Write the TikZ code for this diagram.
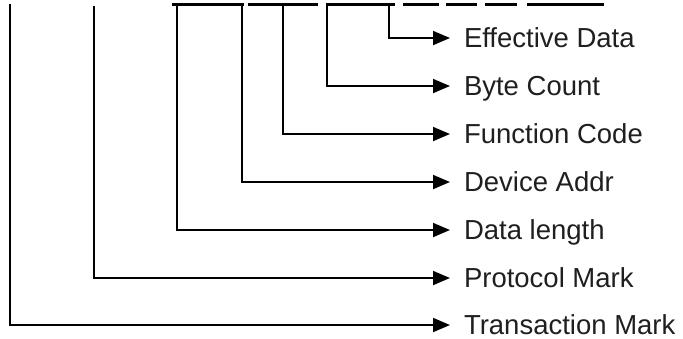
\documentclass[tikz,border=0pt]{standalone}
\usepackage{fontspec}
\setmainfont{Liberation Sans}
\usetikzlibrary{arrows.meta}
\begin{document}
\begin{tikzpicture}[x=1pt,y=-1pt,
	wire/.style={line width=1.8pt},
	arr/.style={wire,-{Triangle[length=17pt,width=14pt]}},
	bar/.style={line width=3pt},
	lbl/.style={anchor=west,inner xsep=0pt,outer xsep=14pt,inner ysep=0pt,text height=19.5pt,text depth=0pt,
		font=\fontsize{27.5}{32}\selectfont,text=black!88}]
	\useasboundingbox (0,0) rectangle (683,338);
	% underlines of the frame bytes
	\foreach \a/\b in {172/244,248/318,326/395,403/439,446/477,485/517,527/604}
		\draw[bar] (\a,4) -- (\b,4);
	\coordinate (T) at (10,4);
	\coordinate (P) at (94,6);
	\coordinate (L) at (177,4);
	\coordinate (A) at (242,4);
	\coordinate (F) at (283,4);
	\coordinate (B) at (327,4);
	\coordinate (E) at (389,4);
	\node[lbl] (ed) at (450,38) {Effective Data};
	\node[lbl] (bc) at (450,86) {Byte Count};
	\node[lbl] (fc) at (450,134) {Function Code};
	\node[lbl] (da) at (450,182) {Device Addr};
	\node[lbl] (dl) at (450,230) {Data length};
	\node[lbl] (pm) at (450,278) {Protocol Mark};
	\node[lbl] (tm) at (450,325) {Transaction Mark};
	\draw[arr] (E) |- (ed);
	\draw[arr] (B) |- (bc);
	\draw[arr] (F) |- (fc);
	\draw[arr] (A) |- (da);
	\draw[arr] (L) |- (dl);
	\draw[arr] (P) |- (pm);
	\draw[arr] (T) |- (tm);
\end{tikzpicture}
\end{document}
